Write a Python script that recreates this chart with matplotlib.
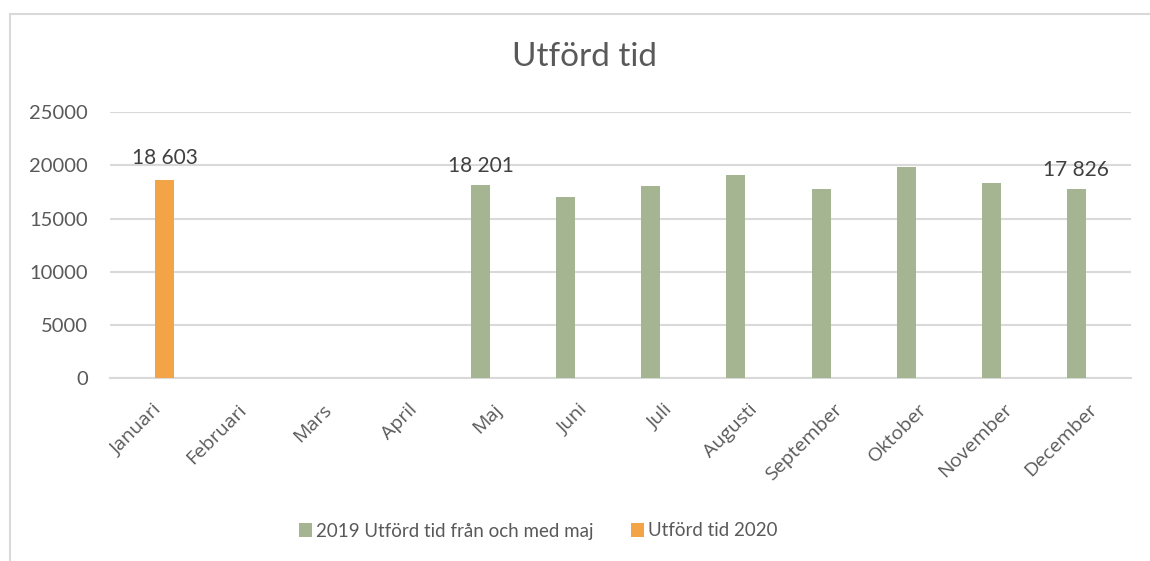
import matplotlib
matplotlib.use("Agg")
import matplotlib.pyplot as plt
import numpy as np
from matplotlib.lines import Line2D

months = ["Januari", "Februari", "Mars", "April", "Maj", "Juni", "Juli",
          "Augusti", "September", "Oktober", "November", "December"]
series_2019 = [np.nan, np.nan, np.nan, np.nan, 18201, 17070, 18040, 19110,
               17760, 19890, 18360, 17826]
series_2020 = [18603, np.nan, np.nan, np.nan, np.nan, np.nan, np.nan, np.nan,
               np.nan, np.nan, np.nan, np.nan]
label_2019 = "2019 Utförd tid från och med maj"
label_2020 = "Utförd tid 2020"
labeled_2019 = ["Maj", "December"]
labeled_2020 = ["Januari"]
yticks = [0, 5000, 10000, 15000, 20000, 25000]

green = "#A6B591"
orange = "#F3A446"
grid_c = "#D9D9D9"
text_c = "#595959"

plt.rcParams['font.family'] = ['Lato', 'DejaVu Sans']

fig = plt.figure(figsize=(11.5, 5.61), dpi=100)
ax = fig.add_axes([110/1150, 1-378.3/561, (1131-110)/1150, (378.3-112.3)/561])

x = np.arange(len(months))
w = 0.223
off = 0.143
b1 = ax.bar(x - off, series_2019, width=w, color=green, label=label_2019, zorder=3)
b2 = ax.bar(x + off, series_2020, width=w, color=orange, label=label_2020, zorder=3)

def fmt(v):
    return f"{int(round(v)):,}".replace(",", " ")

for i, m in enumerate(months):
    if m in labeled_2019 and not np.isnan(series_2019[i]):
        ax.annotate(fmt(series_2019[i]), (x[i] - off, series_2019[i]),
                    xytext=(0, 6), textcoords="offset points", ha="center",
                    va="bottom", fontsize=15, color="#404040")
    if m in labeled_2020 and not np.isnan(series_2020[i]):
        ax.annotate(fmt(series_2020[i]), (x[i] + off, series_2020[i]),
                    xytext=(0, 9), textcoords="offset points", ha="center",
                    va="bottom", fontsize=15, color="#404040")

ax.set_xlim(-0.5, len(months) - 0.5)
ax.set_ylim(0, 25000)
ax.set_yticks(yticks)
ax.set_yticklabels([str(t) for t in yticks], fontsize=14.5, color=text_c)
ax.set_xticks(x)
ax.set_xticklabels(months, rotation=45, ha="right", rotation_mode="anchor",
                   fontsize=14, color=text_c, family=['Open Sans', 'DejaVu Sans'])
ax.tick_params(axis="x", length=0, pad=16)
ax.tick_params(axis="y", length=0, pad=16)
ax.grid(axis="y", color=grid_c, linewidth=1.5, zorder=0)
for s in ["top", "right", "left"]:
    ax.spines[s].set_visible(False)
ax.spines["bottom"].set_color(grid_c)
ax.spines["bottom"].set_linewidth(1.5)

fig.text(585/1150, 1-57/561, "Utförd tid", ha="center", va="center",
         fontsize=24, color=text_c)

leg = fig.legend(handles=[b1, b2], labels=[label_2019, label_2020],
                 loc="center", bbox_to_anchor=(538/1150, 1-531/561), ncol=2,
                 frameon=False, fontsize=13.5, handlelength=0.7, handleheight=0.7,
                 handletextpad=0.2, columnspacing=2.0)
for t in leg.get_texts():
    t.set_color(text_c)

# chart area border (top and left visible)
fig.add_artist(Line2D([10/1150, 1], [1-14/561, 1-14/561], color="#D9D9D9",
                      linewidth=1.5, transform=fig.transFigure))
fig.add_artist(Line2D([10/1150, 10/1150], [0, 1-14/561], color="#D9D9D9",
                      linewidth=1.5, transform=fig.transFigure))

fig.savefig("out.png", dpi=100, facecolor="white")
